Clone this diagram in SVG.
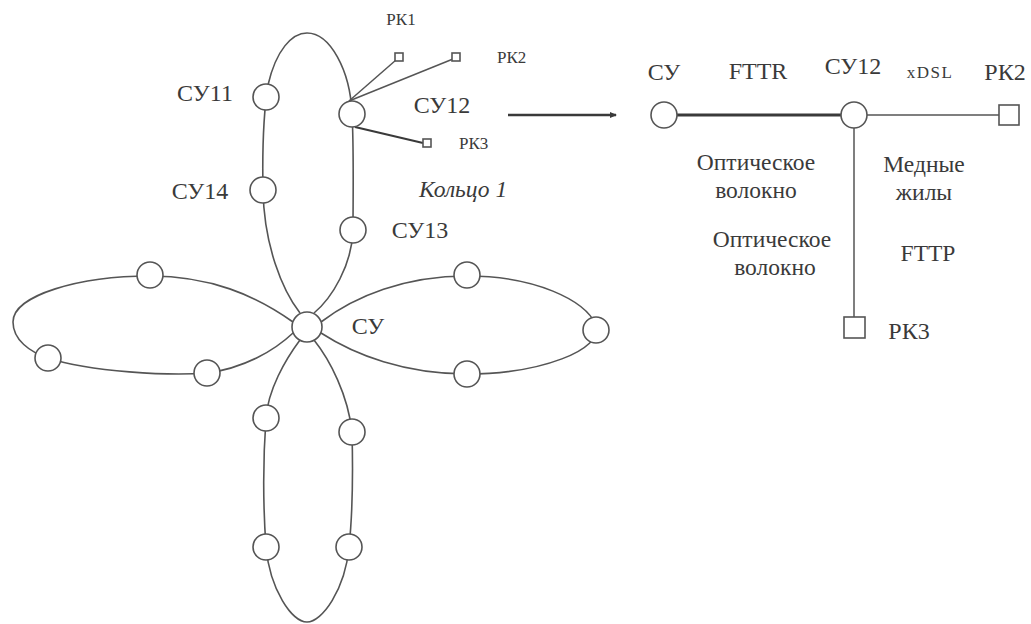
<svg xmlns="http://www.w3.org/2000/svg" width="1031" height="624" viewBox="0 0 1031 624">
<style>
  .ring{fill:none;stroke:#555;stroke-width:1.6}
  .nd{fill:#fff;stroke:#555;stroke-width:1.6}
  .sq{fill:#fff;stroke:#555;stroke-width:1.6}
  .ln{fill:none;stroke:#555;stroke-width:1.5}
  .thk{fill:none;stroke:#3a3a3a;stroke-width:3}
  text{fill:#3a3a3a}
  .lb{font-size:24px}
  .sm{font-size:17px}
  .it{font-size:23.5px;font-style:italic}
  .md{font-size:23.5px}
</style>
<defs>
  <marker id="arr" markerWidth="8" markerHeight="8" refX="6" refY="4" orient="auto" markerUnits="userSpaceOnUse">
    <path d="M0,1 L7,4 L0,7 Z" fill="#3a3a3a"/>
  </marker>
</defs>
<g id="connectors">
  <path id="ring1" class="ring" d="M300 313 C282 290 264 245 263 190 C262 140 264 110 268 85 C276 50 292 33 307 33 C330 33 350 70 352 113 C354 150 353 200 353 230 C352 265 332 298 314 313"/>
  <path id="ring-left" class="ring" d="M293 322 C255 295 210 276 150 276 C80 276 13 295 13 322 C13 340 30 352 48 358 C90 372 170 376 207 373 C245 368 275 350 293 333"/>
  <path id="ring-right" class="ring" d="M321 322 C355 296 405 276 467 276 C535 276 585 300 596 325 C604 350 540 374 467 374 C405 374 355 355 321 333"/>
  <path id="ring-bottom" class="ring" d="M300 340 C285 360 268 390 266 418 C263 460 263 505 266 547 C270 590 292 622 307 622 C322 622 345 590 349 547 C353 510 353 470 352 432 C348 395 330 360 314 340"/>
  <line class="ln" x1="349" y1="101" x2="396" y2="60"/>
  <line class="ln" x1="349" y1="101" x2="453" y2="59"/>
  <line x1="355" y1="127" x2="423" y2="143" stroke="#3a3a3a" stroke-width="2.2"/>
  <line x1="508" y1="115" x2="616" y2="115" stroke="#3a3a3a" stroke-width="2.5" marker-end="url(#arr)"/>
  <line class="thk" x1="676" y1="115" x2="842" y2="115"/>
  <line class="ln" x1="867" y1="115" x2="999" y2="115"/>
  <line class="ln" x1="854" y1="128" x2="854" y2="317"/>
</g>
<g font-family="'Liberation Serif', Tinos, 'Times New Roman', serif">
<g id="node-CY"><circle class="nd" cx="307" cy="327" r="15"/><text class="lb" x="368" y="334" text-anchor="middle">СУ</text></g>
<g id="node-CY11"><circle class="nd" cx="266" cy="97" r="13"/><text class="lb" x="205" y="101" text-anchor="middle">СУ11</text></g>
<g id="node-CY12"><circle class="nd" cx="352" cy="114" r="13"/><text class="lb" x="442" y="113" text-anchor="middle">СУ12</text></g>
<g id="node-CY14"><circle class="nd" cx="263" cy="190" r="13"/><text class="lb" x="200" y="199" text-anchor="middle">СУ14</text></g>
<g id="node-CY13"><circle class="nd" cx="353" cy="230" r="13"/><text class="lb" x="420" y="238" text-anchor="middle">СУ13</text></g>
<g id="label-ring1"><text class="it" x="419" y="197">Кольцо 1</text></g>
<g id="node-PK1"><rect class="sq" x="395" y="53" width="8" height="8"/><text class="sm" x="401" y="25" text-anchor="middle">РК1</text></g>
<g id="node-PK2"><rect class="sq" x="452" y="53" width="8" height="8"/><text class="sm" x="497" y="63">РК2</text></g>
<g id="node-PK3"><rect class="sq" x="423" y="139" width="8" height="8"/><text class="sm" x="459" y="149">РК3</text></g>
<g id="node-L1"><circle class="nd" cx="150" cy="275" r="13"/></g>
<g id="node-L2"><circle class="nd" cx="48" cy="358" r="13"/></g>
<g id="node-L3"><circle class="nd" cx="207" cy="373" r="13"/></g>
<g id="node-R1"><circle class="nd" cx="467" cy="275" r="13"/></g>
<g id="node-R2"><circle class="nd" cx="596" cy="330" r="13"/></g>
<g id="node-R3"><circle class="nd" cx="467" cy="374" r="13"/></g>
<g id="node-B1"><circle class="nd" cx="266" cy="418" r="13"/></g>
<g id="node-B2"><circle class="nd" cx="352" cy="432" r="13"/></g>
<g id="node-B3"><circle class="nd" cx="266" cy="547" r="13"/></g>
<g id="node-B4"><circle class="nd" cx="349" cy="547" r="13"/></g>
<g id="node-r-CY"><circle class="nd" cx="664" cy="115" r="13"/><text class="lb" x="664" y="80" text-anchor="middle">СУ</text></g>
<g id="node-r-CY12"><circle class="nd" cx="854" cy="115" r="13"/><text class="lb" x="853" y="74" text-anchor="middle">СУ12</text></g>
<g id="node-r-PK2"><rect class="sq" x="999" y="105" width="20" height="20"/><text class="lb" x="1005" y="80" text-anchor="middle">РК2</text></g>
<g id="node-r-PK3"><rect class="sq" x="844" y="317" width="21" height="21"/><text class="lb" x="909" y="339" text-anchor="middle">РК3</text></g>
<g id="labels">
  <text class="lb" x="758" y="79" text-anchor="middle">FTTR</text>
  <text x="930" y="78" text-anchor="middle" font-size="17" letter-spacing="1.5">xDSL</text>
  <text class="md" x="756" y="170" text-anchor="middle">Оптическое</text>
  <text class="md" x="756" y="198" text-anchor="middle">волокно</text>
  <text class="md" x="924" y="172" text-anchor="middle">Медные</text>
  <text class="md" x="924" y="200" text-anchor="middle">жилы</text>
  <text class="md" x="772" y="247" text-anchor="middle">Оптическое</text>
  <text class="md" x="775" y="275" text-anchor="middle">волокно</text>
  <text class="md" x="928" y="261" text-anchor="middle">FTTP</text>
</g>
</g>
</svg>
